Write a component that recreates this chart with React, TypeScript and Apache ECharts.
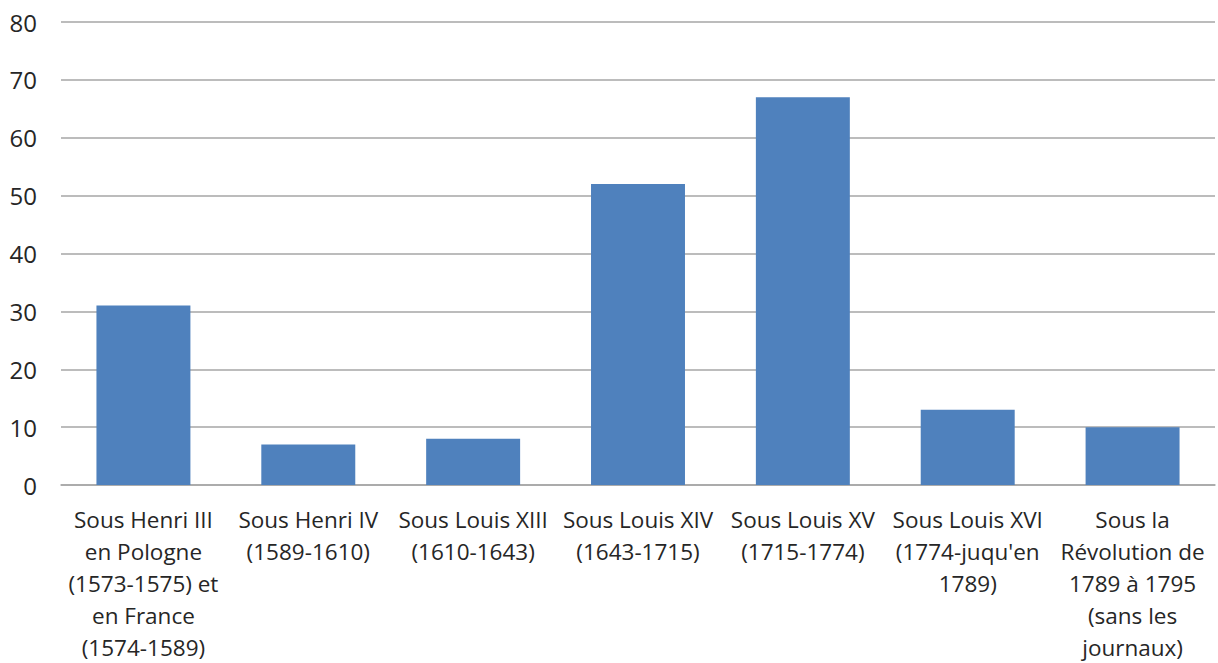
import React, { useEffect, useRef } from "react";
import * as echarts from "echarts";

const categories = [
  "Sous Henri III\nen Pologne\n(1573-1575) et\nen France\n(1574-1589)",
  "Sous Henri IV\n(1589-1610)",
  "Sous Louis XIII\n(1610-1643)",
  "Sous Louis XIV\n(1643-1715)",
  "Sous Louis XV\n(1715-1774)",
  "Sous Louis XVI\n(1774-juqu'en\n1789)",
  "Sous la\nRévolution de\n1789 à 1795\n(sans les\njournaux)",
];
const values = [31, 7, 8, 52, 67, 13, 10];

export default function App() {
  const ref = useRef<HTMLDivElement>(null);
  useEffect(() => {
    document.body.style.margin = "0";
    const chart = echarts.init(ref.current!, undefined, { renderer: "svg" });
    const font = "'Open Sans', 'Liberation Sans', Arial, sans-serif";
    chart.setOption({
      animation: false,
      backgroundColor: "#ffffff",
      grid: { left: 61, right: 3, top: 22, bottom: 178, containLabel: false },
      xAxis: {
        type: "category",
        data: categories,
        axisTick: { show: false },
        axisLine: { show: true, lineStyle: { color: "#a6a6a6", width: 1.5 } },
        axisLabel: {
          interval: 0,
          margin: 18,
          color: "#262626",
          fontSize: 22.5,
          fontFamily: font,
          lineHeight: 32,
          align: "center",
        },
      },
      yAxis: {
        type: "value",
        min: 0,
        max: 80,
        interval: 10,
        axisLine: { show: false },
        axisTick: { show: false },
        splitLine: { lineStyle: { color: "#a6a6a6", width: 1.5 } },
        axisLabel: {
          margin: 24,
          color: "#262626",
          fontSize: 24,
          fontFamily: font,
        },
      },
      series: [
        {
          type: "bar",
          data: values,
          barWidth: "57%",
          itemStyle: { color: "#4f81bd" },
        },
      ],
    });
    return () => chart.dispose();
  }, []);
  return (
    <div
      ref={ref}
      style={{ position: "absolute", left: 0, top: 0, width: 1218, height: 663 }}
    />
  );
}
